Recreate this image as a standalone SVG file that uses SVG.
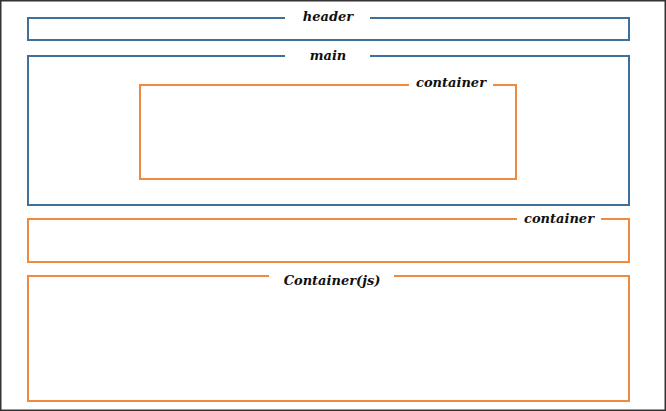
<svg xmlns="http://www.w3.org/2000/svg" width="666" height="411" viewBox="0 0 666 411">
<style>
.blue{fill:none;stroke:#3f6f9b;stroke-width:2}
.orange{fill:none;stroke:#ef8a3e;stroke-width:2}
.lbl{font-family:"DejaVu Serif","Liberation Serif",serif;font-weight:bold;font-style:italic;font-size:13px;fill:#111;text-anchor:middle}
</style>
<rect x="0.75" y="0.75" width="664.5" height="409.5" fill="#fff" stroke="#333" stroke-width="1.5"/>
<g id="header">
<path class="blue" d="M285,18 H28 V40 H629 V18 H370"/>
<text class="lbl" x="328" y="21">header</text>
</g>
<g id="main">
<path class="blue" d="M285,56 H28 V205 H629 V56 H370"/>
<text class="lbl" x="328" y="60">main</text>
</g>
<g id="container-inner">
<path class="orange" d="M409,85 H140 V179 H516 V85 H493"/>
<text class="lbl" x="451" y="87">container</text>
</g>
<g id="container">
<path class="orange" d="M517,219 H28 V262 H629 V219 H601"/>
<text class="lbl" x="559" y="223">container</text>
</g>
<g id="container-js">
<path class="orange" d="M269,276 H28 V401 H629 V276 H394"/>
<text class="lbl" x="332" y="285">Container(js)</text>
</g>
<g id="connectors"></g>
</svg>
